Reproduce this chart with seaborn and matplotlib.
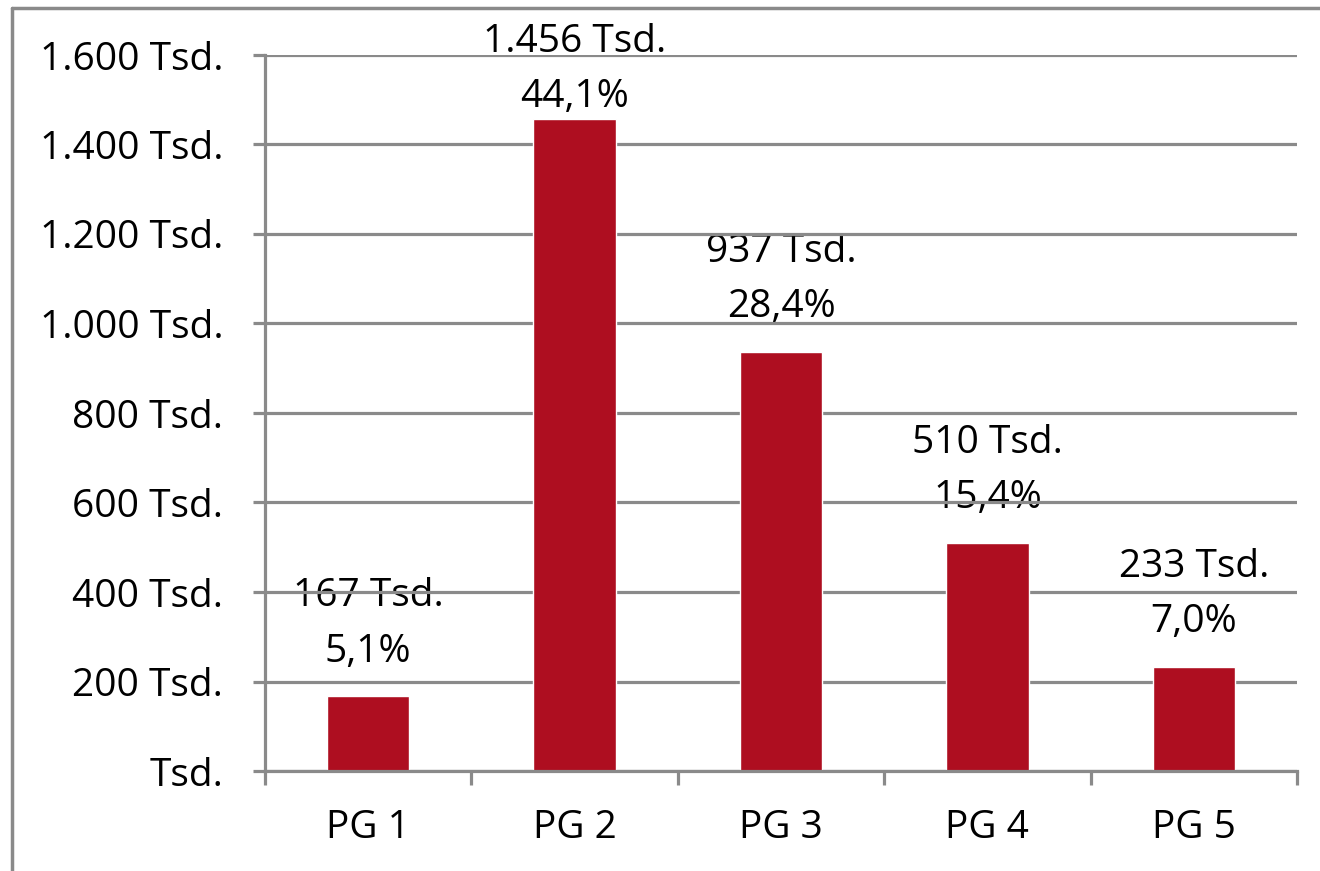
import matplotlib
matplotlib.use("Agg")
import matplotlib.pyplot as plt
import seaborn as sns
import pandas as pd
from matplotlib.lines import Line2D

# data
groups = ["PG 1", "PG 2", "PG 3", "PG 4", "PG 5"]
values = [167, 1456, 937, 510, 233]
shares = ["5,1%", "44,1%", "28,4%", "15,4%", "7,0%"]
value_labels = ["167 Tsd.", "1.456 Tsd.", "937 Tsd.", "510 Tsd.", "233 Tsd."]
yticks = [0, 200, 400, 600, 800, 1000, 1200, 1400, 1600]
ytick_labels = ["Tsd.", "200 Tsd.", "400 Tsd.", "600 Tsd.", "800 Tsd.",
                "1.000 Tsd.", "1.200 Tsd.", "1.400 Tsd.", "1.600 Tsd."]

sns.set_style("white")
plt.rcParams["font.family"] = ["Open Sans", "DejaVu Sans"]

BAR = "#AE0E20"
GRID = "#8A8A8A"
FS = 28

df = pd.DataFrame({"group": groups, "value": values})

fig = plt.figure(figsize=(13.2, 8.71), dpi=100)
ax = fig.add_axes([265 / 1320, 1 - 771 / 871, (1297 - 265) / 1320, (771 - 55) / 871])

sns.barplot(data=df, x="group", y="value", color=BAR, width=0.4,
            saturation=1, ax=ax, zorder=2)

ax.set_xlim(-0.5, len(groups) - 0.5)
ax.set_ylim(0, 1600)
ax.set_yticks(yticks)
ax.set_yticklabels(ytick_labels)
ax.set_xlabel("")
ax.set_ylabel("")

# grid above labels, below bars
ax.set_axisbelow("line")
ax.yaxis.grid(True, color=GRID, linewidth=2.3)
ax.xaxis.grid(False)

for side in ["top", "right"]:
    ax.spines[side].set_visible(False)
for side in ["left", "bottom"]:
    ax.spines[side].set_color(GRID)
    ax.spines[side].set_linewidth(2.3)

ax.tick_params(axis="y", length=9, width=2.3, color=GRID, labelsize=FS,
               labelcolor="black", pad=21, left=True)
ax.tick_params(axis="x", which="major", length=0, labelsize=FS,
               labelcolor="black", pad=27)
ax.set_xticks([i + 0.5 for i in range(-1, len(groups))], minor=True)
ax.tick_params(axis="x", which="minor", length=10, width=2.3, color=GRID, bottom=True)

# two-line value labels above the bars (top one squeezed under the frame)
for i, (v, vl, sh) in enumerate(zip(values, value_labels, shares)):
    pct_y = min(v + 100, 1506)
    ax.text(i, pct_y, sh, ha="center", va="center", fontsize=FS,
            color="black", zorder=1)
    ax.text(i, pct_y + 123, vl, ha="center", va="center", fontsize=FS,
            color="black", zorder=1)

# outer frame (left and top edges)
fig.add_artist(Line2D([12 / 1320, 12 / 1320], [0, 1 - 8 / 871], transform=fig.transFigure,
                      color=GRID, linewidth=2.5))
fig.add_artist(Line2D([12 / 1320, 1], [1 - 8 / 871, 1 - 8 / 871], transform=fig.transFigure,
                      color=GRID, linewidth=2.5))

fig.savefig("out.png", dpi=100)
